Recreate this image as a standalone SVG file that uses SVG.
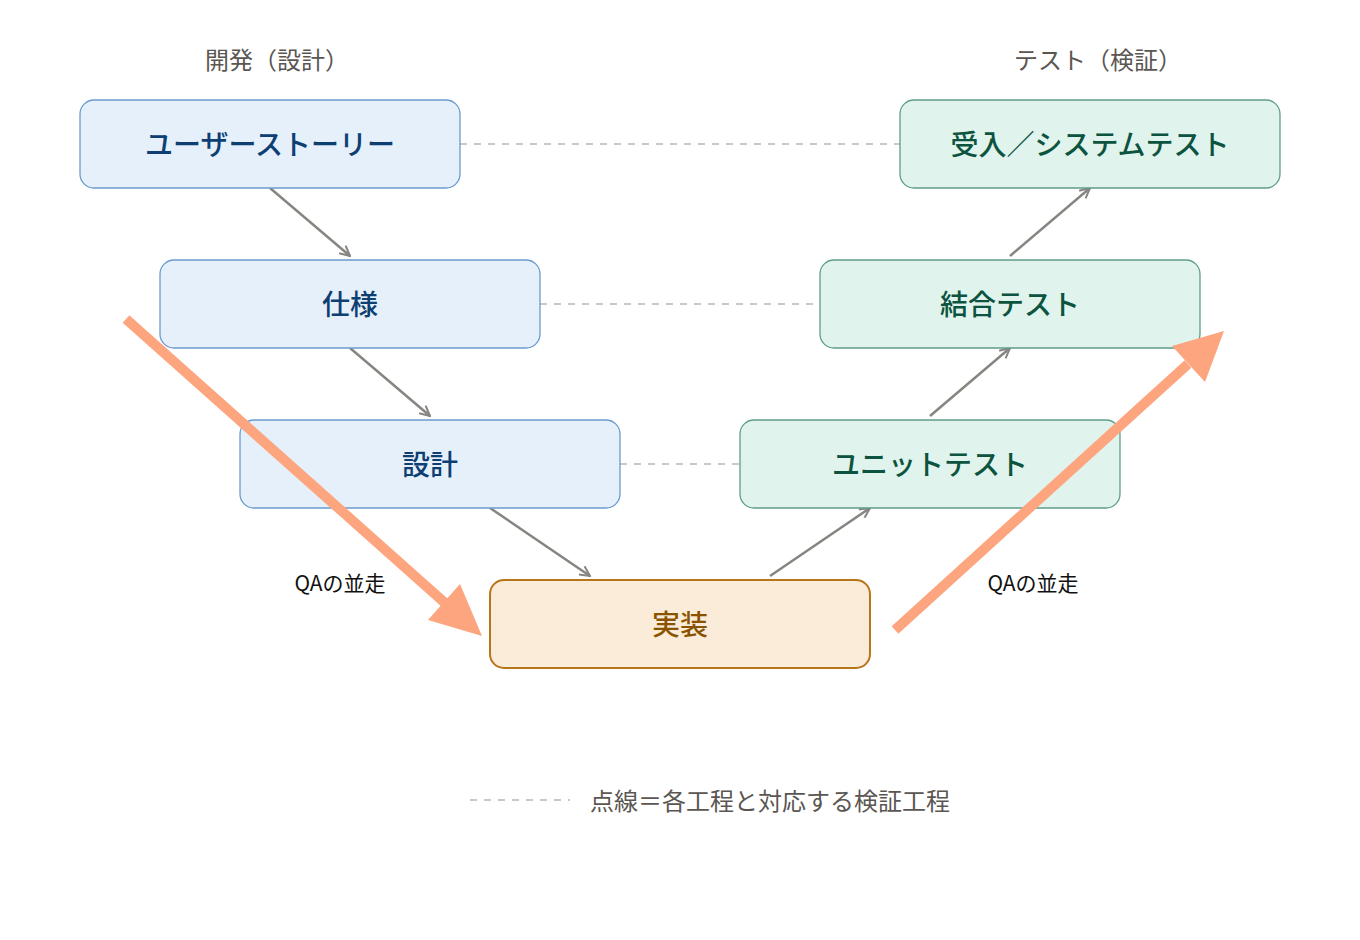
<svg xmlns="http://www.w3.org/2000/svg" width="1360" height="940" viewBox="0 0 1360 940">
<defs>
<style>
text{font-family:"Noto Sans CJK JP","Noto Sans",sans-serif}
.hdr{font-size:24px;fill:#5a5652;text-anchor:middle}
.dev rect{fill:#e6f0fa;stroke:#6b9bd0;stroke-width:1.3}
.dev text{fill:#0d3f73;font-size:28px;font-weight:500;text-anchor:middle}
.tst rect{fill:#e0f3ec;stroke:#5e9f88;stroke-width:1.3}
.tst text{fill:#0c5340;font-size:28px;font-weight:500;text-anchor:middle}
.imp rect{fill:#faecd9;stroke:#b8761a;stroke-width:2}
.imp text{fill:#8a5300;font-size:28px;font-weight:500;text-anchor:middle}
.dash{stroke:#bab6b0;stroke-width:1.5;stroke-dasharray:7 7;fill:none}
.flow{stroke:#878580;stroke-width:2.5;fill:none;marker-end:url(#ah)}
.qa{stroke:#fca57f;stroke-width:10;fill:none}
.qah{fill:#fca57f}
.lbl{font-size:21px;fill:#111;text-anchor:middle}
.leg{font-size:24px;fill:#5a5652}
</style>
<marker id="ah" viewBox="0 0 12 12" refX="11" refY="6" markerWidth="12" markerHeight="12" markerUnits="userSpaceOnUse" orient="auto">
<path d="M1 1 L11 6 L1 11" fill="none" stroke="#878580" stroke-width="2"/>
</marker>
</defs>
<rect width="1360" height="940" fill="#ffffff"/>
<text class="hdr" x="277" y="69">開発（設計）</text>
<text class="hdr" x="1098" y="69">テスト（検証）</text>
<g id="connectors">
<line class="dash" x1="460" y1="144" x2="900" y2="144"/>
<line class="dash" x1="540" y1="304" x2="820" y2="304"/>
<line class="dash" x1="620" y1="464" x2="740" y2="464"/>
<line class="flow" x1="270" y1="188" x2="350" y2="256"/>
<line class="flow" x1="350" y1="348" x2="430" y2="416"/>
<line class="flow" x1="490" y1="508" x2="590" y2="576"/>
<line class="flow" x1="770" y1="576" x2="870" y2="508"/>
<line class="flow" x1="930" y1="416" x2="1010" y2="348"/>
<line class="flow" x1="1010" y1="256" x2="1090" y2="188"/>
</g>
<g id="n-story" class="dev"><rect x="80" y="100" width="380" height="88" rx="14"/><text x="270" y="155">ユーザーストーリー</text></g>
<g id="n-spec" class="dev"><rect x="160" y="260" width="380" height="88" rx="14"/><text x="350" y="315">仕様</text></g>
<g id="n-design" class="dev"><rect x="240" y="420" width="380" height="88" rx="14"/><text x="430" y="475">設計</text></g>
<g id="n-impl" class="imp"><rect x="490" y="580" width="380" height="88" rx="14"/><text x="680" y="635">実装</text></g>
<g id="n-unit" class="tst"><rect x="740" y="420" width="380" height="88" rx="14"/><text x="930" y="475">ユニットテスト</text></g>
<g id="n-integ" class="tst"><rect x="820" y="260" width="380" height="88" rx="14"/><text x="1010" y="315">結合テスト</text></g>
<g id="n-accept" class="tst"><rect x="900" y="100" width="380" height="88" rx="14"/><text x="1090" y="155">受入／システムテスト</text></g>
<g id="qa-arrows">
<line class="qa" x1="126" y1="319" x2="445" y2="603"/>
<polygon class="qah" points="482,636 428,620 460,584"/>
<line class="qa" x1="895" y1="630" x2="1188" y2="364"/>
<polygon class="qah" points="1224,331 1205,382 1172,346"/>
</g>
<text class="lbl" x="340" y="591">QAの並走</text>
<text class="lbl" x="1033" y="591">QAの並走</text>
<g id="legend">
<line class="dash" x1="470" y1="800" x2="570" y2="800"/>
<text class="leg" x="590" y="810">点線＝各工程と対応する検証工程</text>
</g>
</svg>
